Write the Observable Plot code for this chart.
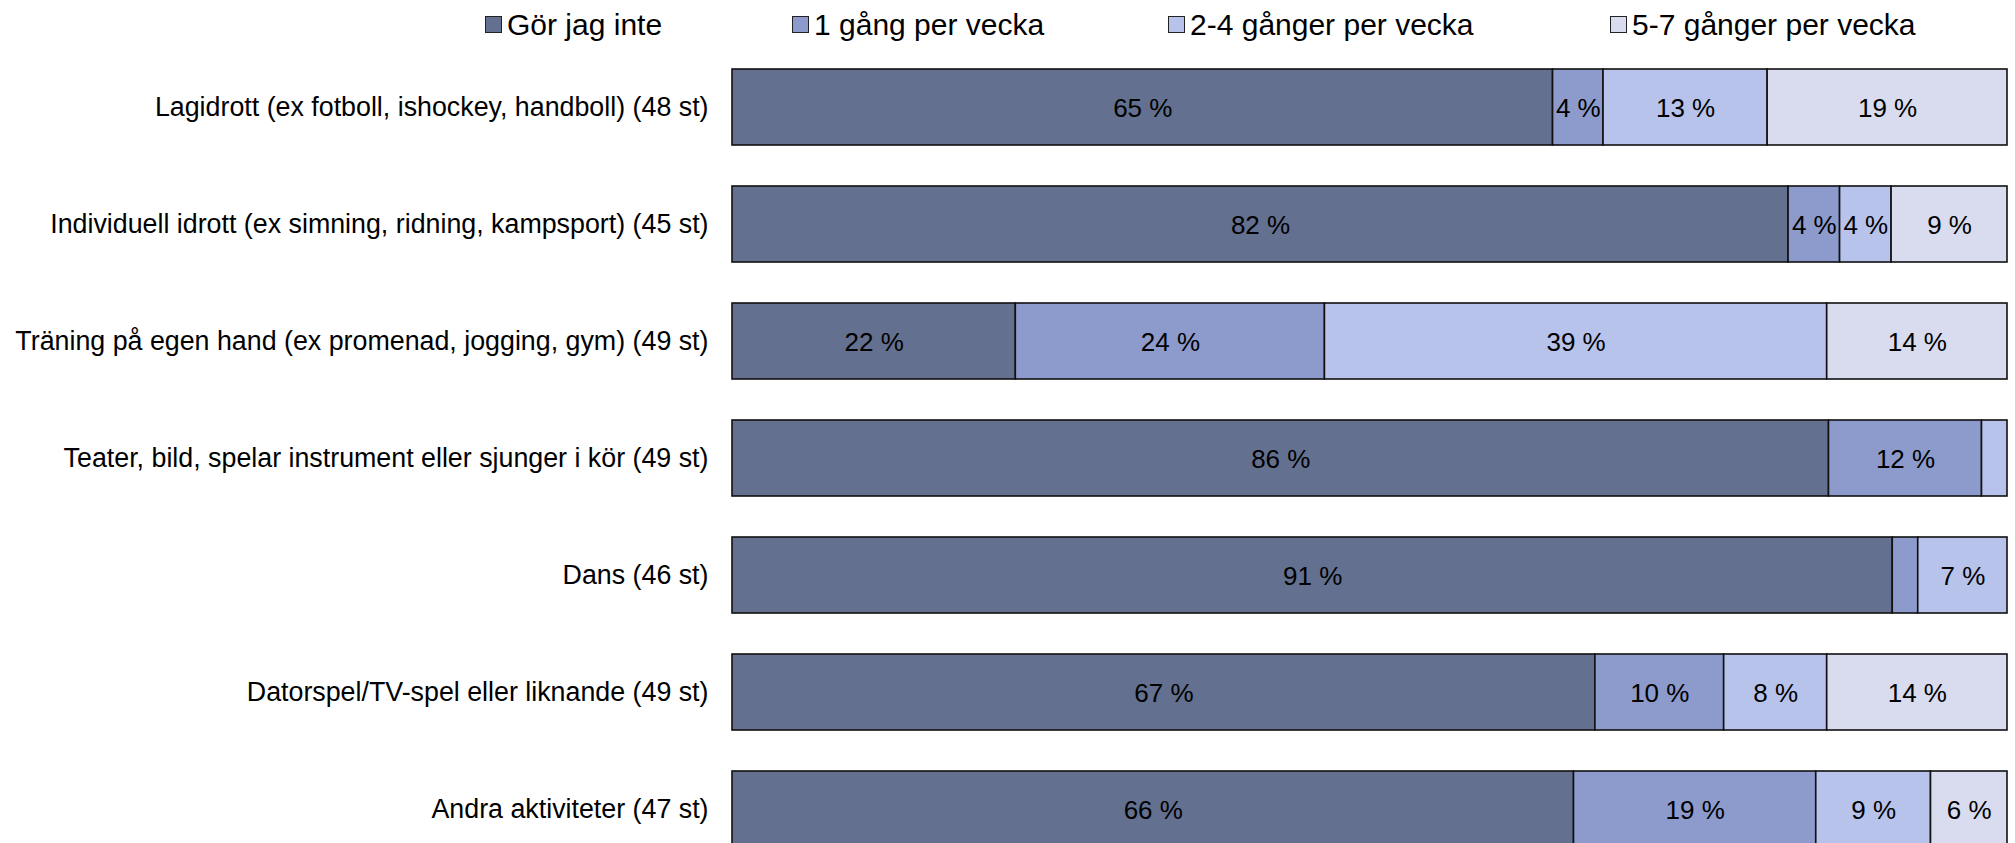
<!DOCTYPE html>
<html lang="sv">
<head>
<meta charset="utf-8">
<script src="https://cdn.jsdelivr.net/npm/d3@7"></script>
<script src="https://cdn.jsdelivr.net/npm/@observablehq/plot@0.6"></script>
<style>
  html, body { margin: 0; padding: 0; background: #fff; }
  body { width: 2015px; font-family: "Liberation Sans", Arial, sans-serif; color: #000; }
  #legend { position: relative; height: 45px; }
  .item { position: absolute; top: 2px; height: 45px; display: flex; align-items: center; font-size: 30px; white-space: nowrap; }
  .sw { width: 15px; height: 15px; border: 1px solid #222; margin-right: 5px; }
  #chart svg { display: block; }
</style>
</head>
<body>
<div id="legend"></div>
<div id="chart"></div>
<script>
// Activities (respondent count in parentheses)
const categories = [
  "Lagidrott (ex fotboll, ishockey, handboll) (48 st)",
  "Individuell idrott (ex simning, ridning, kampsport) (45 st)",
  "Träning på egen hand (ex promenad, jogging, gym) (49 st)",
  "Teater, bild, spelar instrument eller sjunger i kör (49 st)",
  "Dans (46 st)",
  "Datorspel/TV-spel eller liknande (49 st)",
  "Andra aktiviteter (47 st)"
];

// Frequency answers
const series = ["Gör jag inte", "1 gång per vecka", "2-4 gånger per vecka", "5-7 gånger per vecka"];
const colors = ["#63708f", "#8c9bcc", "#b8c3ec", "#d9dcef"];

// Share of answers (%) per activity, one array per frequency
const gorJagInte = [65, 82, 22, 86, 91, 67, 66];
const enGang     = [4, 4, 24, 12, 2, 10, 19];
const tvaFyra    = [13, 4, 39, 2, 7, 8, 9];
const femSju     = [19, 9, 14, 0, 0, 14, 6];
const percents = [gorJagInte, enGang, tvaFyra, femSju];

// Rows in stacking order: activity, then frequency
const rows = [];
categories.forEach((category, i) => {
  series.forEach((s, j) => {
    const pct = percents[j][i];
    if (pct > 0) rows.push({category, series: s, pct});
  });
});

// Legend
const legend = document.getElementById("legend");
const legendLeft = [485, 792, 1168, 1610];
series.forEach((s, j) => {
  const item = document.createElement("div");
  item.className = "item";
  item.style.left = legendLeft[j] + "px";
  const sw = document.createElement("div");
  sw.className = "sw";
  sw.style.background = colors[j];
  const label = document.createElement("span");
  label.textContent = s;
  item.append(sw, label);
  legend.append(item);
});

const chart = Plot.plot({
  width: 2015,
  height: 804,
  marginLeft: 732,
  marginRight: 8,
  marginTop: 23,
  marginBottom: 0,
  style: {fontFamily: "\"Liberation Sans\", Arial, sans-serif", color: "#000", background: "#fff"},
  x: {domain: [0, 1], axis: null},
  y: {domain: categories, paddingInner: 0.35, paddingOuter: 0, align: 0.5, label: null},
  color: {domain: series, range: colors},
  marks: [
    // 100 % stacked bars
    Plot.barX(rows, Plot.stackX({
      x: "pct", y: "category", fill: "series", z: "series", offset: "normalize",
      stroke: "#111", strokeWidth: 1.6
    })),
    // value labels, left out for the thinnest segments
    Plot.text(rows, Plot.stackX({
      x: "pct", y: "category", z: "series", offset: "normalize",
      text: d => d.pct > 2 ? `${d.pct} %` : null,
      fontSize: 26, fill: "#000", dy: 1
    })),
    Plot.axisY({tickSize: 0, tickPadding: 24, fontSize: 26.8, label: null, fill: "#000"})
  ]
});
document.getElementById("chart").append(chart);
</script>
</body>
</html>
